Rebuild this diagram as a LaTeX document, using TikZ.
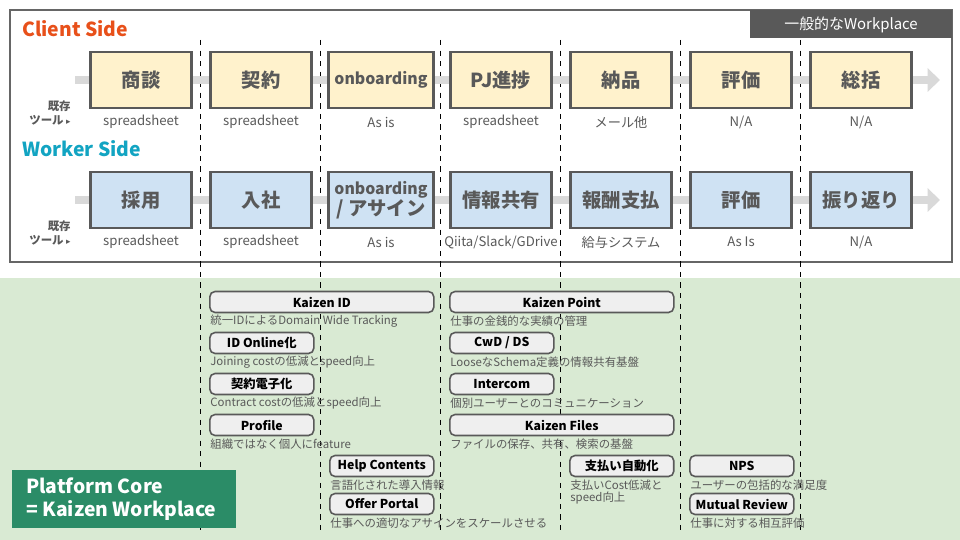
\documentclass[tikz,border=0pt]{standalone}
\usepackage{fontspec}
\setmainfont{Noto Sans CJK JP}
\newfontfamily\symfont{DejaVu Sans}
\usetikzlibrary{arrows.meta,positioning}
\definecolor{frameGray}{HTML}{666666}
\definecolor{textGray}{HTML}{595959}
\definecolor{clientOrange}{HTML}{E8501A}
\definecolor{workerTeal}{HTML}{12A4C2}
\definecolor{clientFill}{HTML}{FFF2CC}
\definecolor{workerFill}{HTML}{CFE2F3}
\definecolor{bgGreen}{HTML}{D9EAD3}
\definecolor{coreGreen}{HTML}{2B8C67}
\definecolor{barGray}{HTML}{D9D9D9}
\definecolor{featFill}{HTML}{EFEFEF}
\begin{document}
\begin{tikzpicture}[x=0.02cm,y=-0.02cm,
    stage/.style={draw=textGray, line width=1.6pt, minimum width=2.02cm, minimum height=1.12cm,
                  font=\bfseries\fontsize{11}{12}\selectfont, text=textGray, align=center},
    tool/.style={text=textGray, font=\fontsize{7.5}{8}\selectfont},
    feat/.style={draw=textGray, line width=0.9pt, rounded corners=3pt, fill=featFill,
                 minimum height=0.42cm, font=\bfseries\fontsize{7}{8}\selectfont, inner sep=0pt},
    desc/.style={text=textGray, font=\fontsize{6.5}{7.5}\selectfont, anchor=west, inner sep=0pt, align=left},
    title/.style={font=\bfseries\fontsize{11}{12}\selectfont, anchor=west, inner sep=0pt}]
  % 背景
  \useasboundingbox (0,0) rectangle (960,540);
  \fill[bgGreen] (0,278) rectangle (960,540);
  \draw[frameGray, line width=0.8pt, fill=white] (10,10) rectangle (952,262);
  \fill[textGray] (750,10) rectangle (952,38);
  \node[text=white, font=\fontsize{8.5}{9}\selectfont] (wp) at (851,25) {一般的なWorkplace};

  % 区切り線
  \foreach \x in {200,320,440,560,680,800}
    \draw[black, dashed, line width=0.4pt] (\x,40) -- (\x,535);

  % タイトル
  \node[title, text=clientOrange] (client) at (22,29) {Client Side};
  \node[title, text=workerTeal] (worker) at (22,149) {Worker Side};

  % 矢印バー
  \coordinate (cs) at (75,80);   \coordinate (ce) at (940,80);
  \coordinate (ws) at (75,200);  \coordinate (we) at (940,200);
  \draw[barGray, line width=5pt, -{Triangle[length=7pt,width=13pt]}] (cs) -- (ce);
  \draw[barGray, line width=5pt, -{Triangle[length=7pt,width=13pt]}] (ws) -- (we);

  % 既存ツール
  \node[tool, align=right, font=\bfseries\fontsize{6.5}{8}\selectfont] (exc) at (50,113) {既存\\ツール {\symfont\tiny ▸}};
  \node[tool, align=right, font=\bfseries\fontsize{6.5}{8}\selectfont] (exw) at (50,233) {既存\\ツール {\symfont\tiny ▸}};

  % ステージ
  \foreach \i/\lab/\tl in {1/商談/spreadsheet, 2/契約/spreadsheet, 3/{\fontsize{9}{10}\selectfont onboarding}/As is,
      4/PJ進捗/spreadsheet, 5/納品/メール他, 6/評価/N\slash A, 7/総括/N\slash A} {
    \node[stage, fill=clientFill] (c\i) at (21+120*\i,80) {\lab};
    \node[tool] (ct\i) at (21+120*\i,122) {\tl};
  }
  \foreach \i/\lab/\tl in {1/採用/spreadsheet, 2/入社/spreadsheet, 3/{\fontsize{9}{10.5}\selectfont onboarding\\/ アサイン}/As is,
      4/情報共有/Qiita\slash Slack\slash GDrive, 5/報酬支払/給与システム, 6/評価/As Is, 7/振り返り/N\slash A} {
    \node[stage, fill=workerFill] (w\i) at (21+120*\i,200) {\lab};
    \node[tool] (wt\i) at (21+120*\i,242) {\tl};
  }

  % Platform Core
  \fill[coreGreen] (12,470) rectangle (236,528);
  \node[text=white, font=\bfseries\fontsize{11}{13}\selectfont, align=left, anchor=west] (core) at (20,499)
    {Platform Core\\= Kaizen Workplace};

  % 機能
  \foreach \n/\x/\y/\w/\lab/\d in {
      kid/209/302/224/Kaizen ID/統一IDによるDomain Wide Tracking,
      ido/209/343/104/ID Online化/Joining costの低減とspeed向上,
      kei/209/384/104/契約電子化/Contract costの低減とspeed向上,
      prof/209/425/104/Profile/組織ではなく個人にfeature,
      help/329/466/104/Help Contents/言語化された導入情報,
      offer/329/504/104/Offer Portal/仕事への適切なアサインをスケールさせる,
      kpt/449/302/224/Kaizen Point/仕事の金銭的な実績の管理,
      cwd/449/343/104/{CwD / DS}/LooseなSchema定義の情報共有基盤,
      icom/449/384/104/Intercom/個別ユーザーとのコミュニケーション,
      kfile/449/425/224/Kaizen Files/ファイルの保存、共有、検索の基盤,
      nps/689/466/104/NPS/ユーザーの包括的な満足度,
      mutual/689/504/104/Mutual Review/仕事に対する相互評価} {
    \node[feat, minimum width=\w*0.02cm, anchor=west] (\n) at (\x,\y) {\lab};
    \node[desc] (\n d) at (\x+1,\y+19) {\d};
  }
  \node[feat, minimum width=2.08cm, anchor=west] (pay) at (569,466) {支払い自動化};
  \node[desc, font=\fontsize{6.5}{7.2}\selectfont] (pay d) at (570,492) {支払いCost低減と\\speed向上};
\end{tikzpicture}
\end{document}
